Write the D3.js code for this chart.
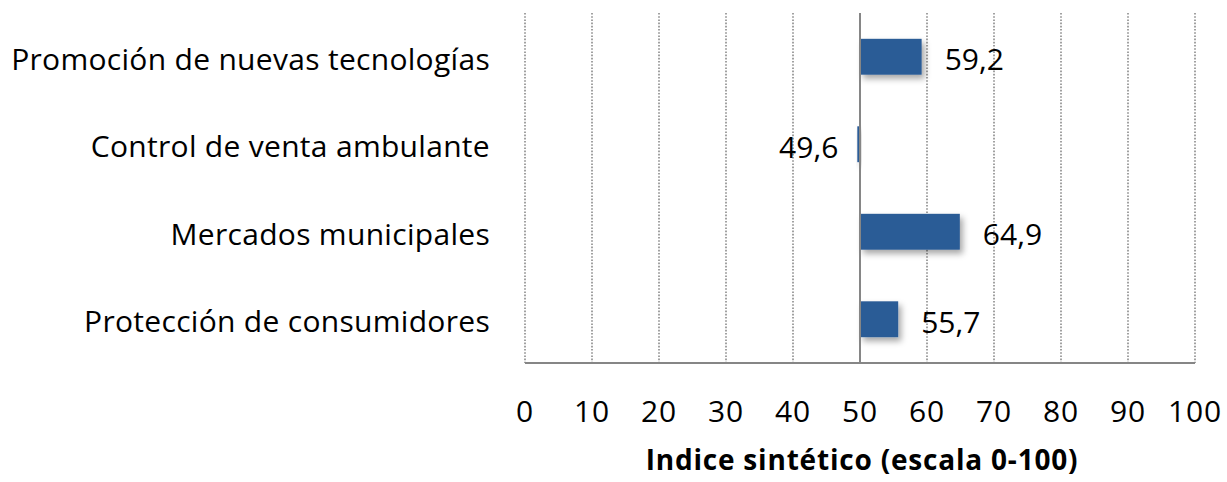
<!DOCTYPE html>
<html>
<head>
<meta charset="utf-8">
<script src="https://cdn.jsdelivr.net/npm/d3@7"></script>
<style>
  body { margin: 0; background: #fff; }
  text { font-family: "Open Sans", Lato, sans-serif; fill: #000; }
</style>
</head>
<body>
<script>
"use strict";

// data
const categories = [
    "Promoción de nuevas tecnologías",
    "Control de venta ambulante",
    "Mercados municipales",
    "Protección de consumidores"
];
const values = [59.2, 49.6, 64.9, 55.7];
const ticks = [0, 10, 20, 30, 40, 50, 60, 70, 80, 90, 100];
const baseline = 50;
const axisTitle = "Indice sintético (escala 0-100)";

const width = 1227, height = 482;
const margin = { top: 13, right: 32, bottom: 119, left: 525 };

const svg = d3.select("body").append("svg")
    .attr("width", width)
    .attr("height", height);

const defs = svg.append("defs");
defs.append("filter")
    .attr("id", "shadow")
    .attr("x", "-20%").attr("y", "-30%")
    .attr("width", "160%").attr("height", "180%")
    .append("feDropShadow")
    .attr("dx", 3).attr("dy", 4)
    .attr("stdDeviation", 3)
    .attr("flood-color", "#000")
    .attr("flood-opacity", 0.35);

const x = d3.scaleLinear()
    .domain([0, 100])
    .range([margin.left, width - margin.right]);

const y = d3.scaleBand()
    .domain(categories)
    .range([margin.top, height - margin.bottom])
    .paddingInner(0.59)
    .paddingOuter(0.295);

// dotted gridlines
svg.append("g")
    .selectAll("line")
    .data(ticks.filter(t => t !== baseline))
    .join("line")
    .attr("x1", d => x(d)).attr("x2", d => x(d))
    .attr("y1", margin.top).attr("y2", height - margin.bottom)
    .attr("stroke", "#8a8a8a")
    .attr("stroke-width", 1.6)
    .attr("stroke-dasharray", "1.6,1.6");

// bars from the 50 baseline
svg.append("g")
    .selectAll("rect")
    .data(values)
    .join("rect")
    .attr("x", d => x(Math.min(d, baseline)))
    .attr("width", d => Math.max(Math.abs(x(d) - x(baseline)), 1))
    .attr("y", (d, i) => y(categories[i]))
    .attr("height", y.bandwidth())
    .attr("fill", "#2c5b96")
    .attr("filter", "url(#shadow)");

// baseline and bottom axis line
svg.append("line")
    .attr("x1", x(baseline)).attr("x2", x(baseline))
    .attr("y1", margin.top).attr("y2", height - margin.bottom)
    .attr("stroke", "#868686").attr("stroke-width", 2);

svg.append("line")
    .attr("x1", x(0)).attr("x2", x(100))
    .attr("y1", height - margin.bottom).attr("y2", height - margin.bottom)
    .attr("stroke", "#868686").attr("stroke-width", 2.2);

// value labels
svg.append("g")
    .selectAll("text")
    .data(values)
    .join("text")
    .attr("x", d => d >= baseline ? x(d) + 23 : x(d) - 19)
    .attr("y", (d, i) => y(categories[i]) + y.bandwidth() / 2)
    .attr("dy", "0.45em")
    .attr("text-anchor", d => d >= baseline ? "start" : "end")
    .attr("font-size", 30)
    .text(d => d3.format(".1f")(d).replace(".", ","));

// category labels
svg.append("g")
    .selectAll("text")
    .data(categories)
    .join("text")
    .attr("x", 490)
    .attr("y", d => y(d) + y.bandwidth() / 2)
    .attr("dy", "0.43em")
    .attr("text-anchor", "end")
    .attr("font-size", 30)
    .attr("letter-spacing", 0.3)
    .text(d => d);

// x tick labels
svg.append("g")
    .selectAll("text")
    .data(ticks)
    .join("text")
    .attr("x", d => x(d))
    .attr("y", 411)
    .attr("dy", "0.36em")
    .attr("text-anchor", "middle")
    .attr("font-size", 30)
    .attr("letter-spacing", 0.8)
    .text(d => d);

svg.append("text")
    .attr("x", 862)
    .attr("y", 460)
    .attr("dy", "0.36em")
    .attr("text-anchor", "middle")
    .attr("font-size", 28)
    .attr("font-weight", "bold")
    .attr("letter-spacing", 0.8)
    .text(axisTitle);
</script>
</body>
</html>
